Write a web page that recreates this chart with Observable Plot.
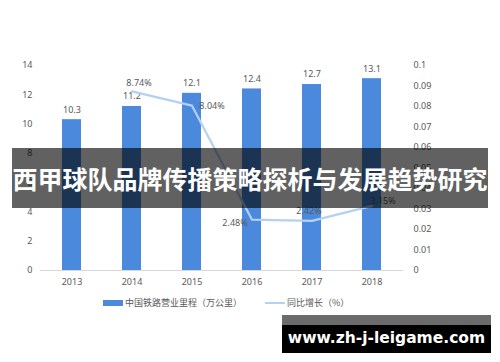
<!DOCTYPE html>
<html>
<head>
<meta charset="utf-8">
<script src="https://cdn.jsdelivr.net/npm/d3@7"></script>
<script src="https://cdn.jsdelivr.net/npm/@observablehq/plot@0.6"></script>
<style>
  html, body { margin: 0; padding: 0; background: #fff; }
  #wrap { position: relative; width: 500px; height: 362px; overflow: hidden; font-family: "Noto Sans CJK SC", "Noto Sans", sans-serif; }
  #chart svg { display: block; overflow: visible; }
  .legend { position: absolute; top: 296px; left: 0; width: 500px; height: 16px; font-size: 9px; color: #595959; }
  .legend .sw { position: absolute; }
  .legend .lb { position: absolute; top: 0; line-height: 14px; white-space: nowrap; }
  .banner { position: absolute; left: 12px; top: 148px; width: 476px; height: 60px; background: rgba(0,0,0,0.62);
    color: #fff; font-weight: bold; font-size: 25px; line-height: 60px; text-align: center; white-space: nowrap;
    font-family: "Noto Sans CJK SC", sans-serif; letter-spacing: 0px; }
  .url { position: absolute; left: 282px; top: 315px; width: 209px; height: 38px; background: #000; }
  .url .topband { position: absolute; left: 0; top: 0; width: 100%; height: 10px; background: #6b6b6b; }
  .url .txt { position: absolute; left: 0; top: 10px; width: 100%; height: 28px; line-height: 26px; text-align: center;
    color: #fff; font-weight: bold; font-size: 15.5px; font-family: "DejaVu Sans", sans-serif; white-space: nowrap; }
</style>
</head>
<body>
<div id="wrap">
  <div id="chart"></div>
  <div class="legend">
    <div class="sw" style="left:103px;top:4px;width:20px;height:6px;background:#4a89dc"></div>
    <div class="lb" style="left:125px">中国铁路营业里程（万公里）</div>
    <div class="sw" style="left:265px;top:6px;width:20px;height:2px;background:#b4d0f4"></div>
    <div class="lb" style="left:287px">同比增长（%）</div>
  </div>
  <div class="banner">西甲球队品牌传播策略探析与发展趋势研究</div>
  <div class="url"><div class="topband"></div><div class="txt">www.zh-j-leigame.com</div></div>
</div>
<script>
const years = ["2013", "2014", "2015", "2016", "2017", "2018"];
const mileage = [10.3, 11.2, 12.1, 12.4, 12.7, 13.1];
const growthYears = ["2014", "2015", "2016", "2017", "2018"];
const growth = [0.0874, 0.0804, 0.0248, 0.0242, 0.0315];
const growthLabels = ["8.74%", "8.04%", "2.48%", "2.42%", "3.15%"];
const leftTicks = [0, 2, 4, 6, 8, 10, 12, 14];
const rightTicks = [0, 0.01, 0.02, 0.03, 0.04, 0.05, 0.06, 0.07, 0.08, 0.09, 0.1];

const ratio = 14 / 0.1; // right axis 0–0.1 maps onto left axis 0–14

const bars = years.map((y, i) => ({year: y, value: mileage[i]}));
const line = growthYears.map((y, i) => ({year: y, g: growth[i], v: growth[i] * ratio, label: growthLabels[i]}));

const labelOffsets = [[7, -8], [20, 0], [-17, 3], [-3, -10], [11, -5]];

const gray = "#595959";
const chart = Plot.plot({
  width: 500,
  height: 292,
  marginTop: 65,
  marginBottom: 22,
  marginLeft: 40,
  marginRight: 97,
  style: {fontFamily: "'Noto Sans', sans-serif", fontSize: "9px", color: gray, background: "transparent"},
  x: {domain: years, paddingInner: 0.69, paddingOuter: 0.345, label: null},
  y: {domain: [0, 14], label: null},
  marks: [
    Plot.barY(bars, {x: "year", y: "value", fill: "#4a89dc"}),
    Plot.ruleY([0], {stroke: "#d9d9d9", strokeWidth: 1}),
    Plot.text(bars, {x: "year", y: "value", text: d => String(d.value), dy: -10, fill: gray, fontSize: 9}),
    Plot.line(line, {x: "year", y: "v", stroke: "#b4d0f4", strokeWidth: 2.2}),
    ...line.map((d, i) => Plot.text([d], {x: "year", y: "v", text: "label", dx: labelOffsets[i][0], dy: labelOffsets[i][1], fill: gray, fontSize: 9})),
    Plot.axisX({tickSize: 0, tickPadding: 8, fill: gray, fontSize: 9, label: null}),
    Plot.axisY({anchor: "left", ticks: leftTicks, tickSize: 0, tickPadding: 8, fill: gray, fontSize: 9, label: null}),
    Plot.axisY({anchor: "right", ticks: rightTicks.map(t => t * ratio), tickFormat: d => String(+(d / ratio).toFixed(2)), tickSize: 0, tickPadding: 10, fill: gray, fontSize: 9, label: null})
  ]
});
document.getElementById("chart").appendChild(chart);
</script>
</body>
</html>
